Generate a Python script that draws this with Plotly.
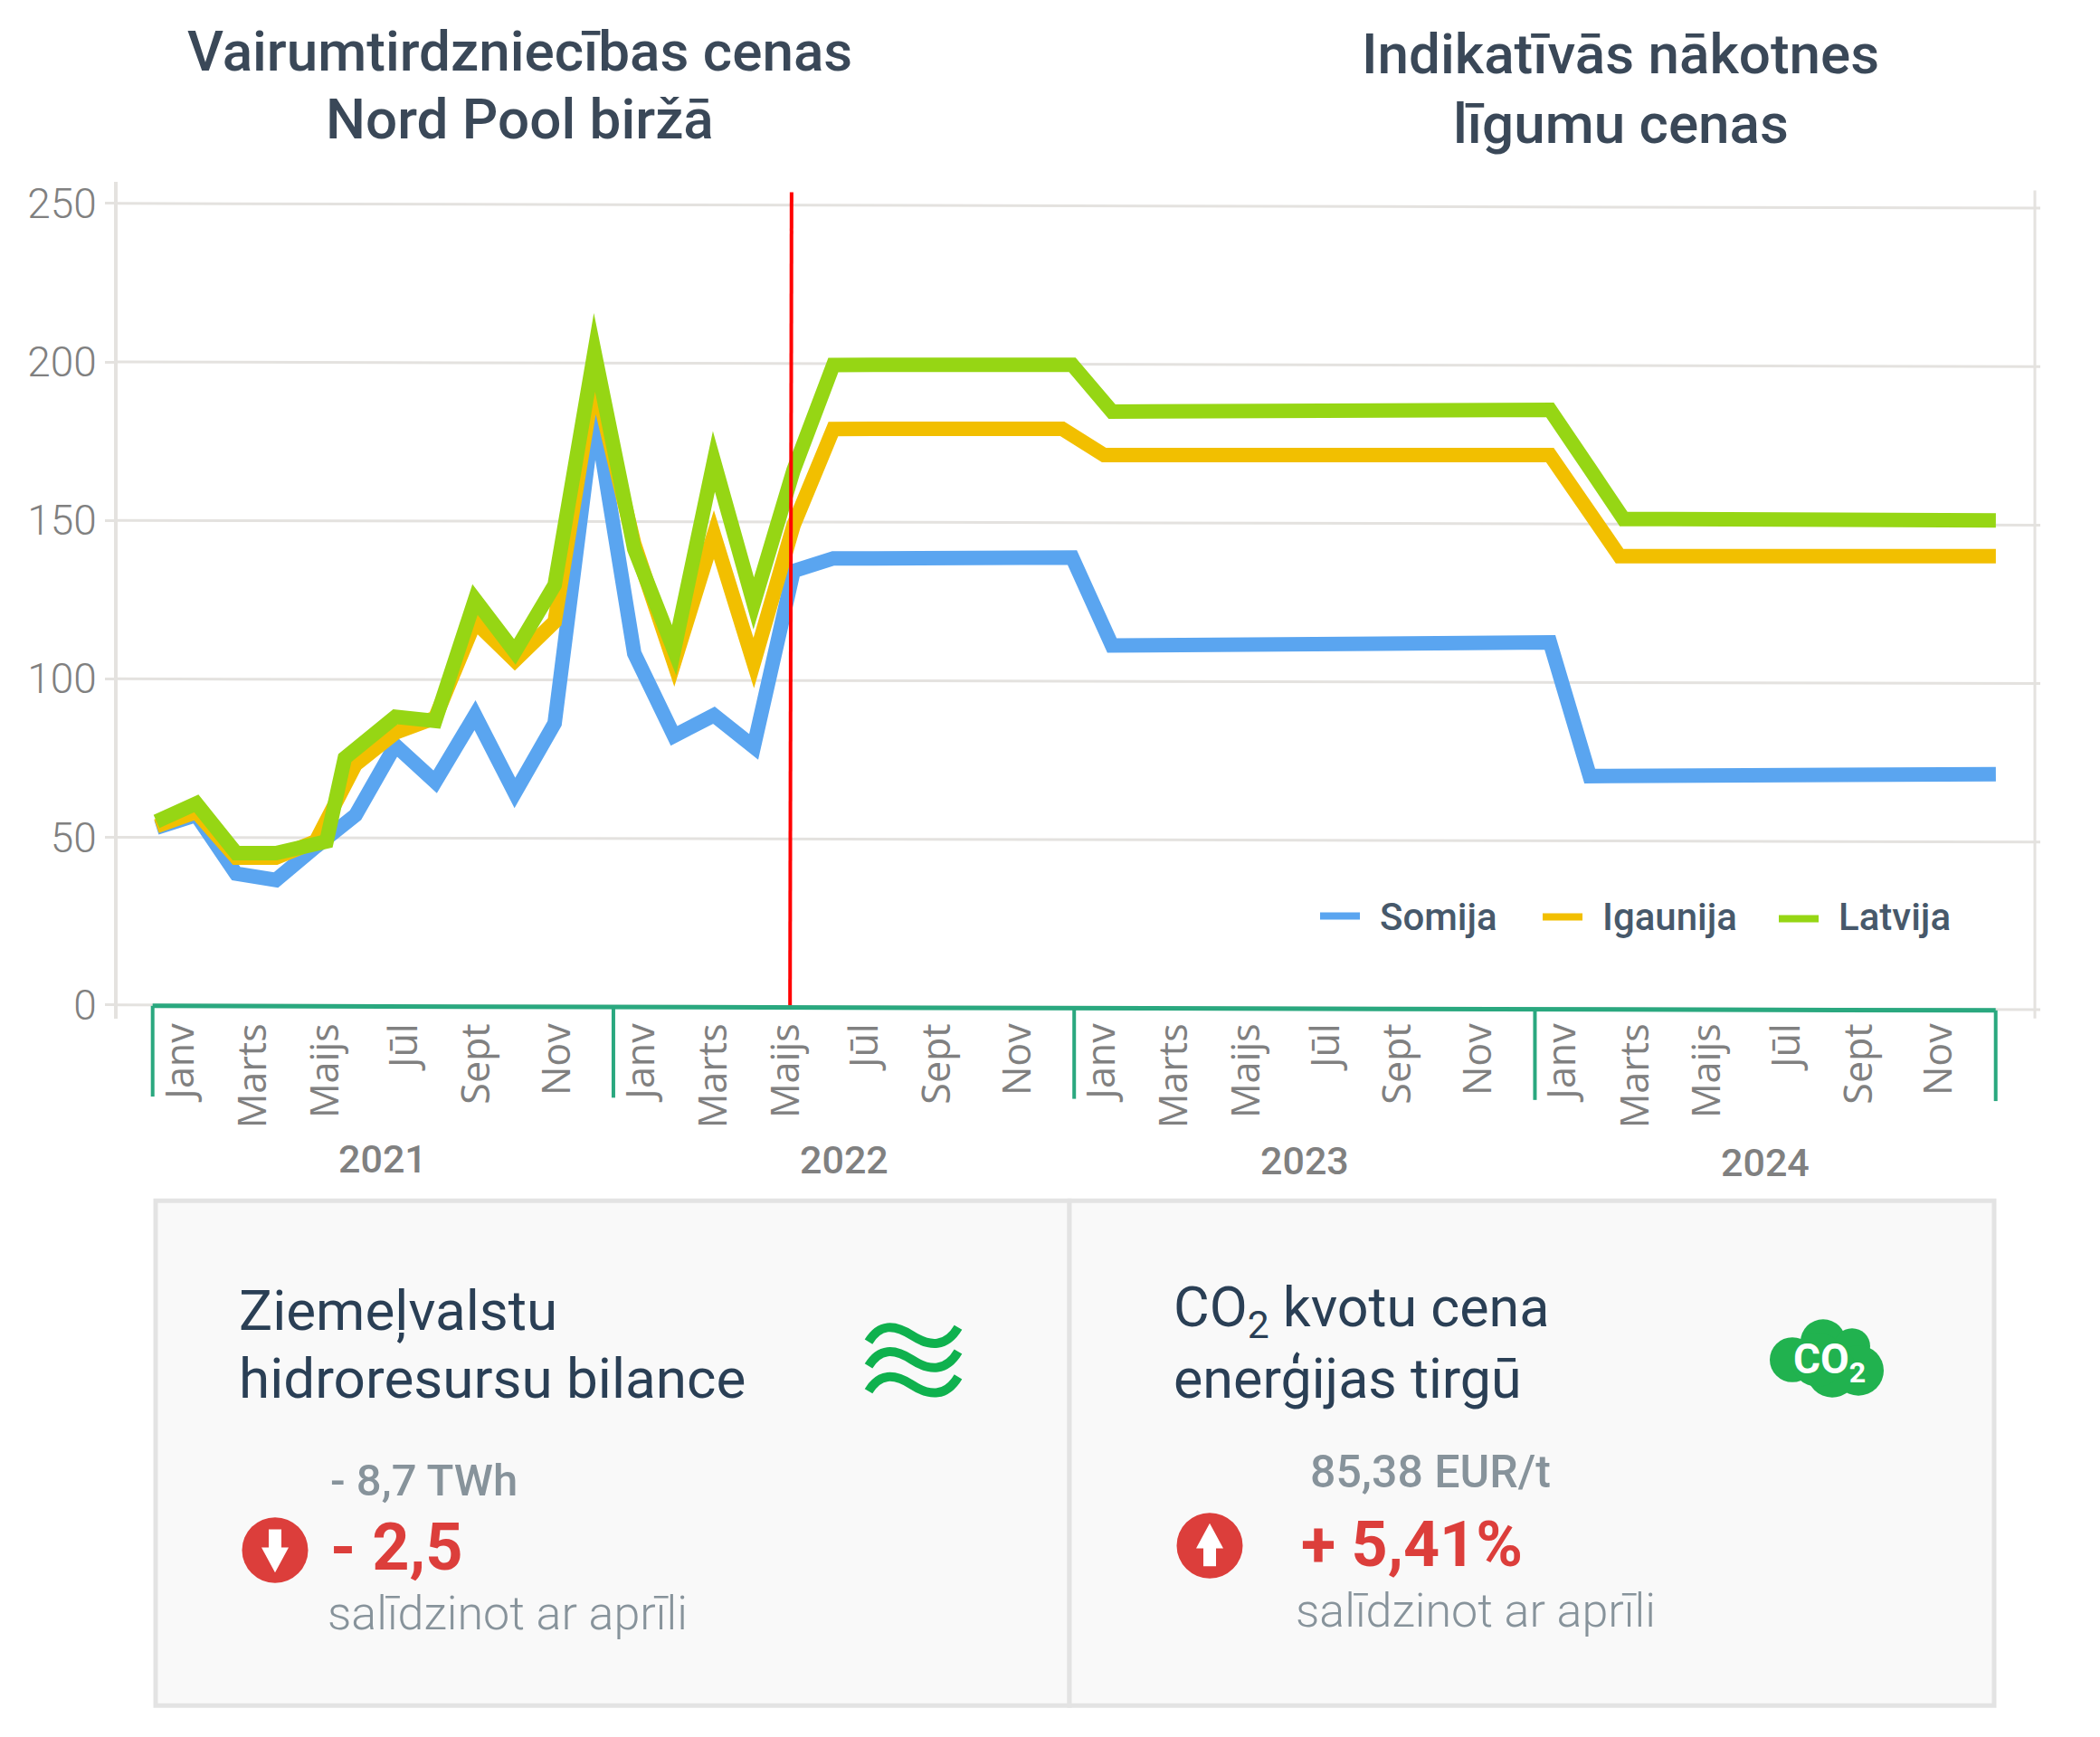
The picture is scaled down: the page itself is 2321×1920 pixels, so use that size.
import plotly.graph_objects as go

W, H = 2321, 1920

# --data: monthly points from Jan 2021
month_index = list(range(46)) + [46.2]
igaunija_x = month_index[:]
igaunija_x[23], igaunija_x[24], igaunija_x[37] = 22.75, 23.8, 36.75
latvija_x = month_index[:]
latvija_x[4], latvija_x[5], latvija_x[37] = 4.27, 4.73, 36.85

somija = [53, 57, 38.5, 36.5, 47, 57, 79, 67.5, 88.5, 64, 86, 185, 108, 82, 88.5, 78.5, 134, 138,
          138, 138, 138, 138, 138, 138.3, 110.5, 110.6, 110.7, 110.8, 110.9, 111, 111, 111.1, 111.2, 111.3, 111.4,
          111.5, 69.3, 69.4, 69.4, 69.5, 69.5, 69.6, 69.6, 69.7, 69.7, 69.8, 69.9]
igaunija = [53.5, 58, 43.6, 43.6, 48.7, 73, 83, 87.7, 118, 105.8, 118, 195, 142.6, 105, 145.5, 105, 148.4, 178.8,
            178.9, 178.9, 178.9, 178.9, 178.9, 178.9, 170.6, 170.6, 170.6, 170.6, 170.6, 170.6, 170.6, 170.6, 170.6, 170.6, 170.6,
            170.6, 152.4, 138.7, 138.7, 138.7, 138.7, 138.7, 138.7, 138.7, 138.7, 138.7, 138.7]
latvija = [55, 60.7, 45, 45, 48.7, 75, 88, 86.7, 125, 108.5, 129.6, 203, 141, 109, 168.6, 123.8, 165.8, 199,
           199.1, 199.1, 199.1, 199.1, 199.1, 199.1, 184.3, 184.4, 184.4, 184.5, 184.5, 184.6, 184.6, 184.7, 184.7, 184.8, 184.8,
           184.9, 166.3, 150.4, 150.4, 150.3, 150.3, 150.2, 150.2, 150.1, 150.1, 150, 150]

y_grid = [-2.9, 50, 100, 150, 200, 250]
y_labels = ["0", "50", "100", "150", "200", "250"]
month_names = ["Janv", "Marts", "Maijs", "Jūl", "Sept", "Nov"]
month_label_pos = [0.73, 2.62, 4.5, 6.56, 8.44, 10.53]
years = ["2021", "2022", "2023", "2024"]

BLUE, ORANGE, GREEN = "#5aa5f0", "#f2bf00", "#96d614"
GRID = "#e4e2df"
TEAL = "#2aa87f"
NAVY = "#2a3f55"
SLATE = "#3a4858"
GREY = "#808080"
SOFT = "#87939b"
RED = "#dc3e3b"
LEAF = "#0fb14e"
FONT = "Roboto, sans-serif"


def px(x):
    return x / W


def py(y):
    return 1 - y / H


def label(x, y, text, size, color, weight=400, anchor="left"):
    fig.add_annotation(x=px(x), y=py(y), xref="paper", yref="paper", text=text, showarrow=False,
                       xanchor=anchor, yanchor="middle", align=anchor,
                       font=dict(family=FONT, size=size, color=color, weight=weight))


def box(x0, y0, x1, y1, fill, line=None, width=0, kind="rect", layer="above"):
    fig.add_shape(type=kind, xref="paper", yref="paper", x0=px(x0), x1=px(x1), y0=py(y0), y1=py(y1),
                  fillcolor=fill, line=dict(color=line or fill, width=width), layer=layer)


def path(points, fill=None, line=None, width=0):
    fig.add_shape(type="path", xref="paper", yref="paper", path=points, fillcolor=fill or "rgba(0,0,0,0)",
                  line=dict(color=line or "rgba(0,0,0,0)", width=width))


fig = go.Figure()

for name, xs, values, color in [("Somija", month_index, somija, BLUE), ("Igaunija", igaunija_x, igaunija, ORANGE),
                                ("Latvija", latvija_x, latvija, GREEN)]:
    fig.add_trace(go.Scatter(x=xs, y=values, mode="lines", name=name, showlegend=False,
                             line=dict(color=color, width=16)))

# current month marker, sits on the calendar axis
fig.add_trace(go.Scatter(x=[16.64, 16.6], y=[253.5, -3.2], mode="lines", xaxis="x2", showlegend=False,
                         line=dict(color="#ff0000", width=4)))

fig.update_layout(
    width=W, height=H, margin=dict(l=0, r=0, t=0, b=0), paper_bgcolor="white", plot_bgcolor="white",
    xaxis=dict(domain=[px(130), px(2249)], range=[-0.977, 47.18], visible=False),
    xaxis2=dict(domain=[px(130), px(2249)], range=[-0.912, 49.02], overlaying="x", anchor="y", side="bottom",
                tickmode="array", tickvals=[12 * k + m for k in range(4) for m in month_label_pos],
                ticktext=month_names * 4, tickangle=-90, ticks="", showgrid=False, zeroline=False,
                ticklabelstandoff=-4,
                tickfont=dict(family="Open Sans, sans-serif", size=43, color=GREY)),
    yaxis=dict(domain=[py(1132), py(200)], range=[-7.17, 256.94], tickmode="array", tickvals=y_grid, ticktext=y_labels,
               showline=True, linecolor=GRID, linewidth=4, ticks="outside", tickcolor=GRID, tickwidth=3, ticklen=10,
               showgrid=False, zeroline=False,
               tickfont=dict(family=FONT, size=46, color=GREY, weight=300)),
)

# grid runs very slightly downhill in the original
for v in y_grid:
    fig.add_shape(type="line", xref="paper", yref="y", x0=px(128), x1=px(2255), y0=v, y1=v - 1.5,
                  line=dict(color=GRID, width=3), layer="below")
fig.add_shape(type="line", xref="paper", yref="paper", x0=px(2249), x1=px(2249), y0=py(210), y1=py(1132),
              line=dict(color=GRID, width=3), layer="below")

# year brackets under the axis
fig.add_shape(type="line", xref="x2", yref="paper", x0=0, x1=48, y0=py(1118), y1=py(1123),
              line=dict(color=TEAL, width=5))
for k, year in enumerate(years):
    m = 12 * k
    top = 1118 + k * 1.25
    fig.add_shape(type="line", xref="x2", yref="paper", x0=m, x1=m, y0=py(top), y1=py(top + 101),
                  line=dict(color=TEAL, width=4))
    fig.add_annotation(x=m + 6, y=py(1288 + k * 1.4), xref="x2", yref="paper", text=year, showarrow=False,
                       xanchor="center", yanchor="middle",
                       font=dict(family=FONT, size=43, color=GREY, weight=500))
fig.add_shape(type="line", xref="x2", yref="paper", x0=48, x1=48, y0=py(1123), y1=py(1224),
              line=dict(color=TEAL, width=4))

# headers
label(574, 55, "Vairumtirdzniecības cenas", 62, SLATE, weight=500, anchor="center")
label(574, 130, "Nord Pool biržā", 62, SLATE, weight=500, anchor="center")
label(1791, 58, "Indikatīvās nākotnes", 62, SLATE, weight=500, anchor="center")
label(1791, 135, "līgumu cenas", 62, SLATE, weight=500, anchor="center")

# legend
for x0, x1, ly, tx, name, color in [(1459, 1503, 1018, 1523, "Somija", BLUE), (1705, 1749, 1019, 1769, "Igaunija", ORANGE),
                                    (1966, 2010, 1021, 2030, "Latvija", GREEN)]:
    fig.add_shape(type="line", xref="paper", yref="paper", x0=px(x0), x1=px(x1), y0=py(ly), y1=py(ly),
                  line=dict(color=color, width=8))
    label(tx, 1019, name, 42, "#47596b", weight=500)

# lower panels
box(172, 1335, 1182, 1897, "#f9f9f9", "#e3e3e3", 5, layer="below")
box(1182, 1335, 2204, 1897, "#f9f9f9", "#e3e3e3", 5, layer="below")

label(262, 1458, "Ziemeļvalstu", 62, NAVY)
label(262, 1533, "hidroresursu bilance", 62, NAVY)
label(1295, 1458, "CO<sub>2</sub> kvotu cena", 61, NAVY)
label(1295, 1533, "enerģijas tirgū", 61, NAVY)

label(363, 1647, "- 8,7 TWh", 49, SOFT, weight=500)
label(363, 1721, "- 2,5", 72, RED, weight=700)
label(360, 1795, "salīdzinot ar aprīli", 52, SOFT, weight=300)
label(1446, 1637, "85,38 EUR/t", 50, SOFT, weight=500)
label(1436, 1718, "+ 5,41%", 70, RED, weight=700)
label(1430, 1792, "salīdzinot ar aprīli", 52, SOFT, weight=300)

# water icon
for yc in [1484, 1511, 1539]:
    d = (f"M {px(960)},{py(yc + 8)} C {px(972)},{py(yc - 12)} {px(988)},{py(yc - 12)} {px(1008)},{py(yc + 1)} "
         f"C {px(1028)},{py(yc + 14)} {px(1046)},{py(yc + 14)} {px(1059)},{py(yc - 8)}")
    path(d, line=LEAF, width=10)

# arrows in red discs
cx, cy = 304, 1724
box(cx - 36.5, cy - 36.5, cx + 36.5, cy + 36.5, RED, kind="circle")
path(f"M {px(cx - 7)},{py(cy - 23)} L {px(cx + 7)},{py(cy - 23)} L {px(cx + 7)},{py(cy - 3)} L {px(cx + 15)},{py(cy - 3)} "
     f"L {px(cx)},{py(cy + 25)} L {px(cx - 15)},{py(cy - 3)} L {px(cx - 7)},{py(cy - 3)} Z", fill="white")
cx, cy = 1337, 1719
box(cx - 36.5, cy - 36.5, cx + 36.5, cy + 36.5, RED, kind="circle")
path(f"M {px(cx - 7)},{py(cy + 23)} L {px(cx + 7)},{py(cy + 23)} L {px(cx + 7)},{py(cy + 3)} L {px(cx + 15)},{py(cy + 3)} "
     f"L {px(cx)},{py(cy - 25)} L {px(cx - 15)},{py(cy + 3)} L {px(cx - 7)},{py(cy + 3)} Z", fill="white")

# CO2 cloud
for cx, cy, r in [(1981, 1512, 25), (2015, 1492, 25), (2047, 1497, 20), (2054, 1524, 28), (2025, 1526, 28), (2009, 1512, 30)]:
    box(cx - r, cy - r, cx + r, cy + r, "#21b24f", kind="circle")
label(2022, 1515, "CO<sub>2</sub>", 46, "white", weight=700, anchor="center")

fig.write_html("out.html", config={"displayModeBar": False}, post_script="""
document.body.style.margin = 0;
var gd = document.getElementById('{plot_id}');
function sharp() { document.querySelectorAll('.trace.scatter').forEach(function (t) { t.style.strokeMiterlimit = 12; }); }
gd.on('plotly_afterplot', sharp);
sharp();
""")
